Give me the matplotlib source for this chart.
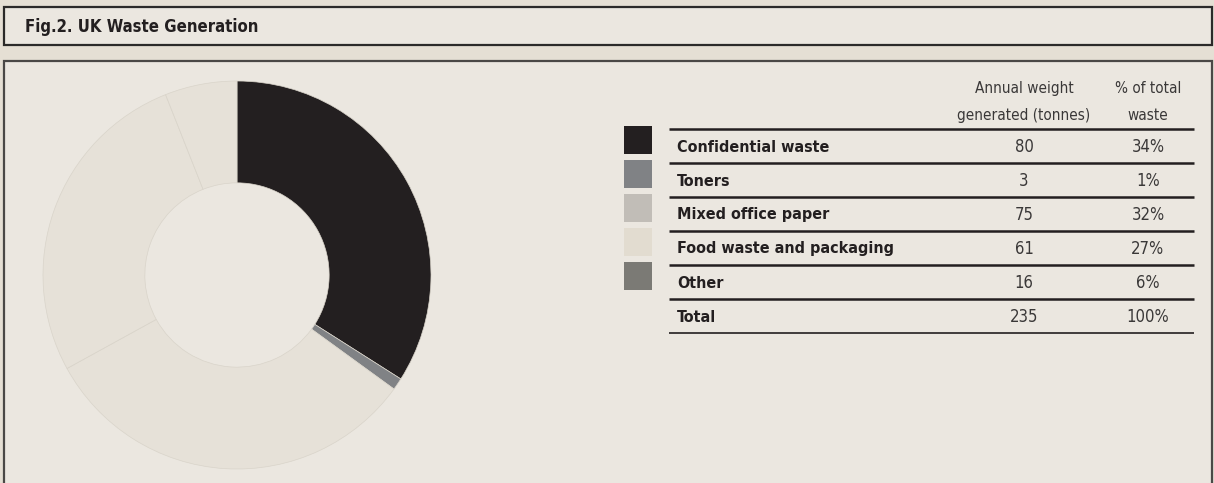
import matplotlib
matplotlib.use("Agg")
import matplotlib.pyplot as plt
from matplotlib.patches import Rectangle

# --- data -----------------------------------------------------------------
categories = ["Confidential waste", "Toners", "Mixed office paper",
              "Food waste and packaging", "Other"]
tonnes = [80, 3, 75, 61, 16]
percent = [34, 1, 32, 27, 6]
total_tonnes = 235
total_percent = 100

legend_colors = ["#231f20", "#808285", "#c1bdb7", "#e2dcd0", "#7b7a75"]
donut_colors = ["#231f20", "#808285", "#e6e1d8", "#e6e1d8", "#e6e1d8"]

title = "Fig.2. UK Waste Generation"
col_headers = ["Annual weight\ngenerated (tonnes)", "% of total\nwaste"]

plt.rcParams["font.family"] = ["DejaVu Sans"]
plt.rcParams["font.stretch"] = "condensed"

W, H = 1214, 483
fig = plt.figure(figsize=(W / 100, H / 100), dpi=100)
fig.patch.set_facecolor("#e5dfd4")

# canvas axes in pixel units
bg = fig.add_axes([0, 0, 1, 1])
bg.set_xlim(0, W)
bg.set_ylim(H, 0)
bg.axis("off")

box_fc = "#ebe7e0"
# title box
bg.add_patch(Rectangle((4, 7), 1208, 38, facecolor=box_fc, edgecolor="#2b2a29", lw=1.6))
bg.text(25, 27, title, fontsize=12, fontweight="bold", color="#231f20",
        va="center", ha="left", fontstretch="condensed")
# chart box
bg.add_patch(Rectangle((4, 61), 1208, 440, facecolor=box_fc, edgecolor="#4a4846", lw=1.6))

# --- donut ----------------------------------------------------------------
cx, cy, r = 237, 275, 194
ax = fig.add_axes([(cx - r) / W, (H - cy - r) / H, 2 * r / W, 2 * r / H])
ax.pie(percent, colors=donut_colors, startangle=90, counterclock=False,
       radius=1, wedgeprops=dict(width=0.525, edgecolor="#d9d4ca", linewidth=0.5))
ax.set_xlim(-1, 1)
ax.set_ylim(-1, 1)
ax.set_aspect("equal")
ax.axis("off")

# --- table ----------------------------------------------------------------
row_h = 34
top = 129
line_x0, line_x1 = 669, 1194
col1_x, col2_x = 1024, 1148
txt_col = "#231f20"
num_col = "#3a3838"

bg.text(col1_x, 102, col_headers[0], ha="center", va="center", fontsize=11,
        color=num_col, linespacing=2.0, fontstretch="condensed")
bg.text(col2_x, 102, col_headers[1], ha="center", va="center", fontsize=11,
        color=num_col, linespacing=2.0, fontstretch="condensed")

rows = list(zip(categories, tonnes, percent, legend_colors))
for i, (name, t, p, c) in enumerate(rows):
    y0 = top + i * row_h
    bg.plot([line_x0, line_x1], [y0, y0], color="#231f20", lw=1.8, solid_capstyle="butt")
    bg.add_patch(Rectangle((624, y0 - 3), 28, 28, facecolor=c, edgecolor="none"))
    ym = y0 + row_h / 2 + 1
    bg.text(677, ym, name, ha="left", va="center", fontsize=11.5,
            fontweight="bold", color=txt_col, fontstretch="condensed")
    bg.text(col1_x, ym, str(t), ha="center", va="center", fontsize=12,
            color=num_col, fontstretch="condensed")
    bg.text(col2_x, ym, f"{p}%", ha="center", va="center", fontsize=12,
            color=num_col, fontstretch="condensed")

y0 = top + len(rows) * row_h
bg.plot([line_x0, line_x1], [y0, y0], color="#231f20", lw=1.8, solid_capstyle="butt")
ym = y0 + row_h / 2 + 1
bg.text(677, ym, "Total", ha="left", va="center", fontsize=11.5, fontweight="bold",
        color=txt_col, fontstretch="condensed")
bg.text(col1_x, ym, str(total_tonnes), ha="center", va="center", fontsize=12,
        color=num_col, fontstretch="condensed")
bg.text(col2_x, ym, f"{total_percent}%", ha="center", va="center", fontsize=12,
        color=num_col, fontstretch="condensed")
bg.plot([line_x0, line_x1], [y0 + row_h, y0 + row_h], color="#231f20", lw=1.2,
        solid_capstyle="butt")

fig.savefig("out.png", dpi=100, facecolor=fig.get_facecolor())
